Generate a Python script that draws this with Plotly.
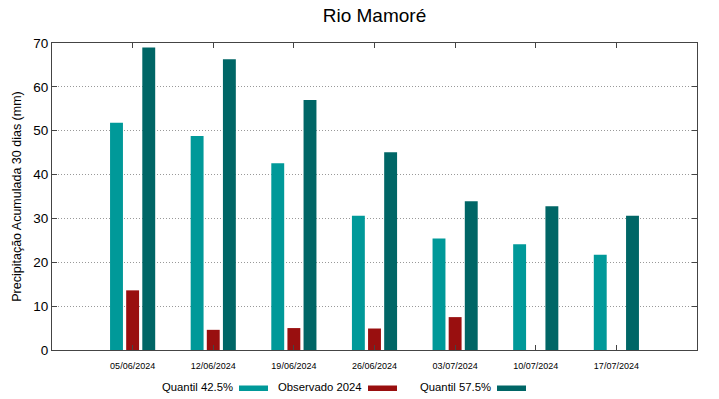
import plotly.graph_objects as go

categories = ["05/06/2024", "12/06/2024", "19/06/2024", "26/06/2024",
              "03/07/2024", "10/07/2024", "17/07/2024"]
q425 = [51.8, 48.8, 42.6, 30.6, 25.4, 24.1, 21.7]
obs2024 = [13.6, 4.6, 5.0, 4.9, 7.5, None, None]
q575 = [69.0, 66.3, 57.0, 45.1, 33.9, 32.8, 30.6]
y_ticks = [0, 10, 20, 30, 40, 50, 60, 70]

names = ["Quantil 42.5%", "Observado 2024", "Quantil 57.5%"]
colors = ["#009999", "#990f0f", "#006666"]
series = [q425, obs2024, q575]

fig = go.Figure()
for name, vals, col in zip(names, series, colors):
    fig.add_trace(go.Bar(x=list(range(len(categories))), y=vals, name=name,
                         marker=dict(color=col, line=dict(width=0)),
                         showlegend=False))

font = "Liberation Sans, Arial, sans-serif"
fig.update_layout(
    width=719, height=399,
    margin=dict(l=52, r=22, t=43, b=49, autoexpand=False),
    paper_bgcolor="white", plot_bgcolor="white",
    barmode="group", bargap=0.4, bargroupgap=0.2,
    font=dict(family=font, color="black"),
    title=dict(text="Rio Mamoré", xref="paper", x=0.5, xanchor="center",
               y=1 - 15 / 399, yanchor="middle",
               font=dict(size=19, family=font)),
)
fig.update_xaxes(
    range=[-1, 7], tickmode="array", tickvals=list(range(len(categories))),
    ticktext=categories, tickfont=dict(size=9), ticks="inside", ticklen=5,
    tickcolor="#444", showline=True, linecolor="#444", linewidth=1, mirror="ticks",
    showgrid=False, zeroline=False, automargin=False, ticklabelstandoff=7,
)
fig.update_yaxes(
    range=[0, 70], tickmode="array", tickvals=y_ticks, tickfont=dict(size=13.5),
    ticks="inside", ticklen=5, tickcolor="#444", showline=True, linecolor="#444",
    linewidth=1, mirror="ticks", showgrid=True, gridcolor="#999", griddash="1px,2px",
    gridwidth=1, zeroline=False, automargin=False,
    title=dict(text="Precipitação Acumulada 30 dias (mm)", font=dict(size=12.5), standoff=8),
)

# Legend drawn gnuplot-style: text then colour sample
leg = [(233, 239, 268), (362, 368, 397), (491, 497, 526)]
pl, pr = 52, 697
pt, pb = 43, 350
ph = pb - pt
for (tx, s0, s1), name, col in zip(leg, names, colors):
    fig.add_annotation(text=name, xref="paper", yref="paper",
                       x=(tx - pl) / (pr - pl), xanchor="right", xshift=2,
                       y=-(387 - pb) / ph, yanchor="middle", showarrow=False,
                       font=dict(size=11.3, family=font))
    fig.add_shape(type="rect", xref="paper", yref="paper",
                  x0=(s0 - pl) / (pr - pl), x1=(s1 - pl) / (pr - pl),
                  y0=-(391 - pb) / ph, y1=-(385.5 - pb) / ph,
                  fillcolor=col, line=dict(width=0))

fig.write_html("out.html", config={"displayModeBar": False},
               post_script="document.body.style.margin='0';")
